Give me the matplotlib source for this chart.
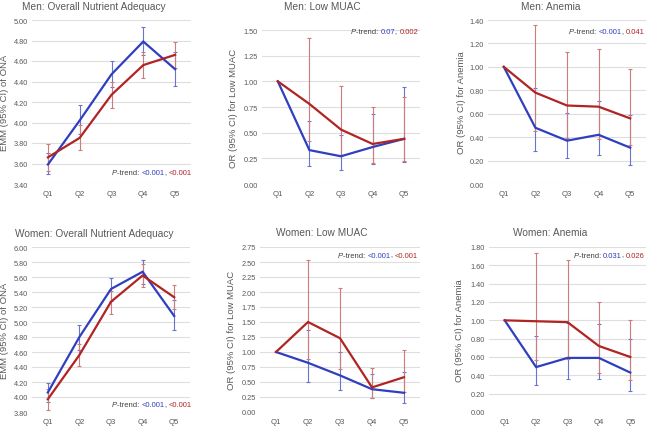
import matplotlib
matplotlib.use('Agg')
import matplotlib.pyplot as plt
import numpy as np
from matplotlib.offsetbox import TextArea, HPacker, AnchoredOffsetbox

plt.rcParams['font.family'] = ['Liberation Sans', 'DejaVu Sans']

quintiles = ['Q1', 'Q2', 'Q3', 'Q4', 'Q5']

# Men: Overall Nutrient Adequacy
men_ona_blue = [3.59, 4.02, 4.47, 4.79, 4.52]
men_ona_blue_lo = [3.50, 3.89, 4.35, 4.66, 4.36]
men_ona_blue_hi = [3.70, 4.17, 4.60, 4.93, 4.69]
men_ona_red = [3.66, 3.85, 4.27, 4.56, 4.66]
men_ona_red_lo = [3.53, 3.73, 4.14, 4.43, 4.53]
men_ona_red_hi = [3.79, 3.98, 4.40, 4.69, 4.79]

# Men: Low MUAC
men_muac_blue = [1.00, 0.33, 0.27, 0.36, 0.44]
men_muac_blue_lo = [1.00, 0.18, 0.14, 0.19, 0.21]
men_muac_blue_hi = [1.00, 0.61, 0.48, 0.68, 0.94]
men_muac_red = [1.00, 0.78, 0.53, 0.39, 0.44]
men_muac_red_lo = [1.00, 0.42, 0.28, 0.20, 0.22]
men_muac_red_hi = [1.00, 1.42, 0.95, 0.75, 0.85]

# Men: Anemia
men_anem_blue = [1.00, 0.48, 0.37, 0.42, 0.31]
men_anem_blue_lo = [1.00, 0.28, 0.22, 0.25, 0.16]
men_anem_blue_hi = [1.00, 0.82, 0.61, 0.71, 0.59]
men_anem_red = [1.00, 0.78, 0.67, 0.66, 0.56]
men_anem_red_lo = [1.00, 0.45, 0.39, 0.38, 0.33]
men_anem_red_hi = [1.00, 1.36, 1.13, 1.15, 0.98]

# Women: Overall Nutrient Adequacy
wom_ona_blue = [4.06, 4.80, 5.44, 5.67, 5.08]
wom_ona_blue_lo = [3.93, 4.63, 5.28, 5.51, 4.89]
wom_ona_blue_hi = [4.19, 4.96, 5.59, 5.83, 5.29]
wom_ona_red = [3.97, 4.56, 5.27, 5.62, 5.33]
wom_ona_red_lo = [3.83, 4.41, 5.11, 5.47, 5.17]
wom_ona_red_hi = [4.11, 4.71, 5.41, 5.77, 5.49]

# Women: Low MUAC
wom_muac_blue = [1.00, 0.82, 0.61, 0.38, 0.32]
wom_muac_blue_lo = [1.00, 0.50, 0.37, 0.23, 0.15]
wom_muac_blue_hi = [1.00, 1.37, 1.00, 0.63, 0.67]
wom_muac_red = [1.00, 1.50, 1.23, 0.41, 0.58]
wom_muac_red_lo = [1.00, 0.89, 0.72, 0.23, 0.33]
wom_muac_red_hi = [1.00, 2.53, 2.07, 0.73, 1.03]

# Women: Anemia
wom_anem_blue = [1.00, 0.49, 0.59, 0.59, 0.43]
wom_anem_blue_lo = [1.00, 0.29, 0.36, 0.36, 0.23]
wom_anem_blue_hi = [1.00, 0.83, 0.97, 0.96, 0.80]
wom_anem_red = [1.00, 0.99, 0.98, 0.72, 0.60]
wom_anem_red_lo = [1.00, 0.57, 0.58, 0.43, 0.35]
wom_anem_red_hi = [1.00, 1.73, 1.66, 1.20, 1.00]

titles = ['Men: Overall Nutrient Adequacy', 'Men: Low MUAC', 'Men: Anemia',
          'Women: Overall Nutrient Adequacy', 'Women: Low MUAC', 'Women: Anemia']
ylabels = ['EMM (95% CI) of ONA', 'OR (95% CI) for Low MUAC', 'OR (95% CI) for Anemia',
           'EMM (95% CI) of ONA', 'OR (95% CI) for Low MUAC', 'OR (95% CI) for Anemia']
ptrend_blue = ['<0.001', '0.07', '<0.001', '<0.001', '<0.001', '0.031']
ptrend_red = ['<0.001', '0.002', '0.041', '<0.001', '<0.001', '0.026']

series = [
    (men_ona_blue, men_ona_blue_lo, men_ona_blue_hi, men_ona_red, men_ona_red_lo, men_ona_red_hi),
    (men_muac_blue, men_muac_blue_lo, men_muac_blue_hi, men_muac_red, men_muac_red_lo, men_muac_red_hi),
    (men_anem_blue, men_anem_blue_lo, men_anem_blue_hi, men_anem_red, men_anem_red_lo, men_anem_red_hi),
    (wom_ona_blue, wom_ona_blue_lo, wom_ona_blue_hi, wom_ona_red, wom_ona_red_lo, wom_ona_red_hi),
    (wom_muac_blue, wom_muac_blue_lo, wom_muac_blue_hi, wom_muac_red, wom_muac_red_lo, wom_muac_red_hi),
    (wom_anem_blue, wom_anem_blue_lo, wom_anem_blue_hi, wom_anem_red, wom_anem_red_lo, wom_anem_red_hi),
]

yaxes = [
    (3.40, 5.00, 0.20),
    (0.00, 1.50, 0.25),
    (0.00, 1.40, 0.20),
    (3.80, 6.00, 0.20),
    (0.00, 2.75, 0.25),
    (0.00, 1.80, 0.20),
]

W, H = 648, 427
# axes boxes in pixels (x0, y0_top, x1, y1_bottom)
boxes = [
    (32, 21, 191, 185),
    (262, 31, 420, 185),
    (488, 21, 646, 185),
    (32, 248, 190, 413),
    (260, 248, 420, 413),
    (489, 248, 646, 413),
]
title_pos = [(94, 7), (322, 7), (551, 7), (94, 234), (322, 233), (550, 233)]
ylabel_x = [5, 234, 461, 5, 232, 460]
ptrend_pos = [(192, 174), (418, 33), (645, 33), (192, 406), (418, 256), (645, 256)]

BLUE = '#2f3fbf'
RED = '#b02424'
BLUE_E = '#6a74cf'
RED_E = '#cf7b7b'
GRAY = '#595959'
GRID = '#dedede'

fig = plt.figure(figsize=(W / 100, H / 100), dpi=100)

for i in range(6):
    x0, y0, x1, y1 = boxes[i]
    ax = fig.add_axes([x0 / W, 1 - y1 / H, (x1 - x0) / W, (y1 - y0) / H])
    b, blo, bhi, r, rlo, rhi = [np.array(s, dtype=float) for s in series[i]]
    x = np.arange(len(quintiles))

    for yv, lo, hi, ec in ((b, blo, bhi, BLUE_E), (r, rlo, rhi, RED_E)):
        m = hi > lo
        ax.errorbar(x[m], yv[m], yerr=[yv[m] - lo[m], hi[m] - yv[m]], fmt='none',
                    ecolor=ec, elinewidth=0.8, capsize=1.6, capthick=0.8, zorder=2)
    ax.plot(x, b, color=BLUE, lw=1.6, zorder=3, solid_joinstyle='miter')
    ax.plot(x, r, color=RED, lw=1.6, zorder=4, solid_joinstyle='miter')

    ymin, ymax, step = yaxes[i]
    ticks = np.arange(ymin, ymax + step / 2, step)
    ax.set_ylim(ymin, ymax)
    ax.set_yticks(ticks)
    ax.set_yticklabels(['%.2f' % t for t in ticks])
    ax.set_xlim(-0.5, 4.5)
    ax.set_xticks(x)
    ax.set_xticklabels(quintiles)
    ax.grid(axis='y', color=GRID, lw=0.8)
    ax.set_axisbelow(True)
    for s in ax.spines.values():
        s.set_visible(False)
    ax.tick_params(axis='y', length=0, labelsize=5.3, colors=GRAY, pad=3)
    ax.tick_params(axis='x', length=0, labelsize=5.6, colors=GRAY, pad=4)

    fig.text(ylabel_x[i] / W, 1 - ((y0 + y1) / 2) / H, ylabels[i], rotation=90,
             ha='center', va='center', fontsize=6.8, color=GRAY)

    tx, ty = title_pos[i]
    fig.text(tx / W, 1 - ty / H, titles[i], ha='center', va='center', fontsize=7.3, color=GRAY)

    fs = 5.5
    parts = [
        TextArea('P', textprops=dict(fontsize=fs, color='#404040', style='italic')),
        TextArea('-trend: ', textprops=dict(fontsize=fs, color='#404040')),
        TextArea(ptrend_blue[i], textprops=dict(fontsize=fs, color=BLUE)),
        TextArea(', ', textprops=dict(fontsize=fs, color='#404040')),
        TextArea(ptrend_red[i], textprops=dict(fontsize=fs, color=RED)),
    ]
    box = HPacker(children=parts, align='baseline', pad=0, sep=0)
    px, py = ptrend_pos[i]
    ab = AnchoredOffsetbox(loc='center right', child=box, frameon=False, pad=0, borderpad=0,
                           bbox_to_anchor=(px / W, 1 - py / H), bbox_transform=fig.transFigure)
    ax.add_artist(ab)

fig.savefig('out.png', dpi=100)
